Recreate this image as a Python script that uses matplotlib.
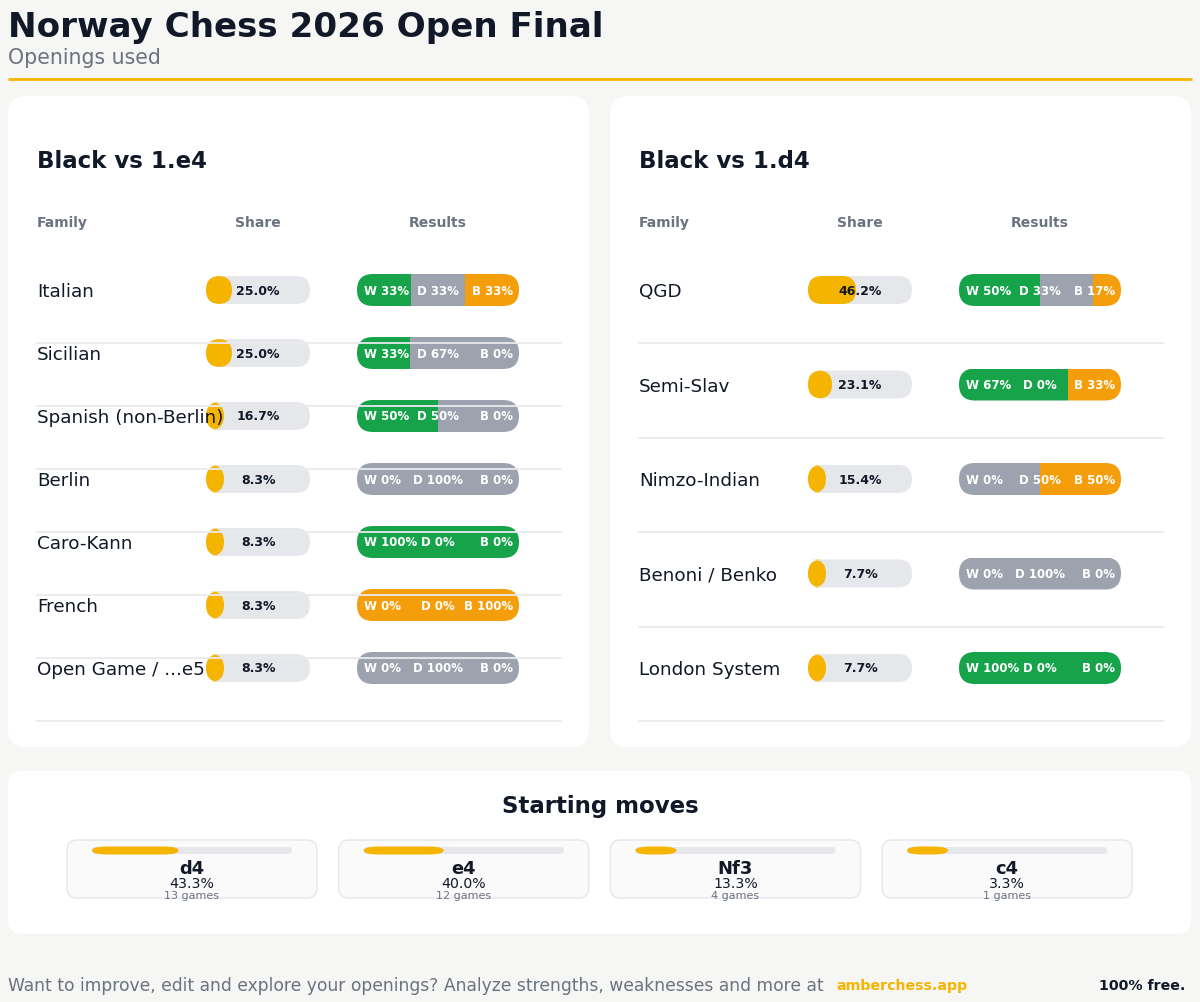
import matplotlib
matplotlib.use("Agg")
import matplotlib.pyplot as plt
from matplotlib.patches import FancyBboxPatch

# data
e4_families = ["Italian", "Sicilian", "Spanish (non-Berlin)", "Berlin",
               "Caro-Kann", "French", "Open Game / ...e5"]
e4_share = [25.0, 25.0, 16.7, 8.3, 8.3, 8.3, 8.3]
e4_w = [33, 33, 50, 0, 100, 0, 0]
e4_d = [33, 67, 50, 100, 0, 0, 100]
e4_b = [33, 0, 0, 0, 0, 100, 0]

d4_families = ["QGD", "Semi-Slav", "Nimzo-Indian", "Benoni / Benko", "London System"]
d4_share = [46.2, 23.1, 15.4, 7.7, 7.7]
d4_w = [50, 67, 0, 0, 100]
d4_d = [33, 0, 50, 100, 0]
d4_b = [17, 33, 50, 0, 0]

moves = ["d4", "e4", "Nf3", "c4"]
move_pct = [43.3, 40.0, 13.3, 3.3]
move_games = [13, 12, 4, 1]

# colours
BG = "#f6f6f4"
DARK = "#111827"
GREY_TXT = "#6b7280"
AMBER = "#f4b400"
TRACK = "#e5e7eb"
WIN = "#16a34a"
DRAW = "#9ca3af"
LOSS = "#f59e0b"
SEP = "#eaebee"

fig = plt.figure(figsize=(12, 10.03), dpi=100, facecolor=BG)
ax = fig.add_axes([0, 0, 1, 1])
ax.set_xlim(0, 1200)
ax.set_ylim(1003, 0)
ax.axis("off")


def card(x, y, w, h, r, fc="white", ec="none", lw=0, z=1):
    p = FancyBboxPatch((x, y), w, h, boxstyle=f"round,pad=0,rounding_size={r}",
                       fc=fc, ec=ec, lw=lw, zorder=z)
    ax.add_patch(p)
    return p


# header
ax.text(8, 37, "Norway Chess 2026 Open Final", fontsize=24.6, fontweight="bold",
        color=DARK, va="baseline", ha="left")
ax.text(8, 64, "Openings used", fontsize=14.8, color=GREY_TXT, va="baseline", ha="left")
ax.plot([8, 1192], [80, 80], color=AMBER, lw=2, solid_capstyle="butt")


def panel(x0, title, fams, share, w, d, b):
    card(x0, 97, 581, 651, 18)
    ax.text(x0 + 29, 161, title, fontsize=16.5, fontweight="bold", color=DARK, va="center")
    tx = x0 + 198      # share track left
    tw = 104
    rx = x0 + 349      # results bar left
    rw = 162
    ax.text(x0 + 29, 223, "Family", fontsize=10, fontweight="bold", color=GREY_TXT, va="center")
    ax.text(tx + tw / 2, 223, "Share", fontsize=10, fontweight="bold", color=GREY_TXT,
            va="center", ha="center")
    ax.text(rx + rw / 2, 223, "Results", fontsize=10, fontweight="bold", color=GREY_TXT,
            va="center", ha="center")
    n = len(fams)
    step = (669 - 291) / (n - 1)
    for i in range(n):
        y = 291 + i * step
        ax.text(x0 + 29, y + 1, fams[i], fontsize=13.2, color=DARK, va="center", zorder=6)
        # share pill
        card(tx, y - 14, tw, 28, 14, fc=TRACK, z=2)
        card(tx, y - 14, max(share[i] / 100 * tw, 18), 28, 14, fc=AMBER, z=3)
        ax.text(tx + tw / 2, y, f"{share[i]:.1f}%", fontsize=9, fontweight="bold",
                color=DARK, va="center", ha="center", zorder=6)
        # results pill
        pill = card(rx, y - 16, rw, 32, 16, fc="none", z=2)
        tot = w[i] + d[i] + b[i]
        left = rx
        for val, col in zip([w[i], d[i], b[i]], [WIN, DRAW, LOSS]):
            seg = val / tot * rw
            bars = ax.barh(y, seg, left=left, height=32, color=col, zorder=3)
            for bar in bars:
                bar.set_clip_path(pill)
            left += seg
        ax.text(rx + 7, y, f"W {w[i]}%", fontsize=8.5, fontweight="bold", color="white",
                va="center", ha="left", zorder=6)
        ax.text(rx + rw / 2, y, f"D {d[i]}%", fontsize=8.5, fontweight="bold", color="white",
                va="center", ha="center", zorder=6)
        ax.text(rx + rw - 6, y, f"B {b[i]}%", fontsize=8.5, fontweight="bold", color="white",
                va="center", ha="right", zorder=6)
        ax.plot([x0 + 29, x0 + 553], [y + 53, y + 53], color=SEP, lw=1.3, zorder=5)


panel(8, "Black vs 1.e4", e4_families, e4_share, e4_w, e4_d, e4_b)
panel(610, "Black vs 1.d4", d4_families, d4_share, d4_w, d4_d, d4_b)

# starting moves
card(8, 772, 1183, 163, 14)
ax.text(600, 807, "Starting moves", fontsize=16.5, fontweight="bold", color=DARK,
        va="center", ha="center")
for i, mv in enumerate(moves):
    cx = 67 + i * 271.7
    card(cx, 841, 250, 58, 10, fc="#fafafa", ec="#e5e7eb", lw=1, z=2)
    ax.add_patch(FancyBboxPatch((cx + 25, 848), 200, 7,
                                boxstyle="round,pad=0,rounding_size=3.5",
                                fc=TRACK, ec="none", zorder=3))
    ax.add_patch(FancyBboxPatch((cx + 25, 847.5), max(move_pct[i] / 100 * 200, 41), 8,
                                boxstyle="round,pad=0,rounding_size=16",
                                mutation_aspect=0.25, fc=AMBER, ec="none", zorder=4))
    ax.text(cx + 125, 869, mv, fontsize=12.9, fontweight="bold", color=DARK,
            va="center", ha="center", zorder=5)
    ax.text(cx + 125, 884, f"{move_pct[i]:.1f}%", fontsize=10.2, color=DARK,
            va="center", ha="center", zorder=5)
    ax.text(cx + 125, 896, f"{move_games[i]} games", fontsize=8, color=GREY_TXT,
            va="center", ha="center", zorder=5)

# footer
ax.text(8, 986, "Want to improve, edit and explore your openings? Analyze strengths, "
        "weaknesses and more at", fontsize=12.3, color=GREY_TXT, va="center", ha="left")
ax.text(836, 986, "amberchess.app", fontsize=10.2, fontweight="bold", color=AMBER,
        va="center", ha="left")
ax.text(1185, 986, "100% free.", fontsize=10.2, fontweight="bold", color=DARK,
        va="center", ha="right")

plt.savefig("out.png", dpi=100, facecolor=BG)
